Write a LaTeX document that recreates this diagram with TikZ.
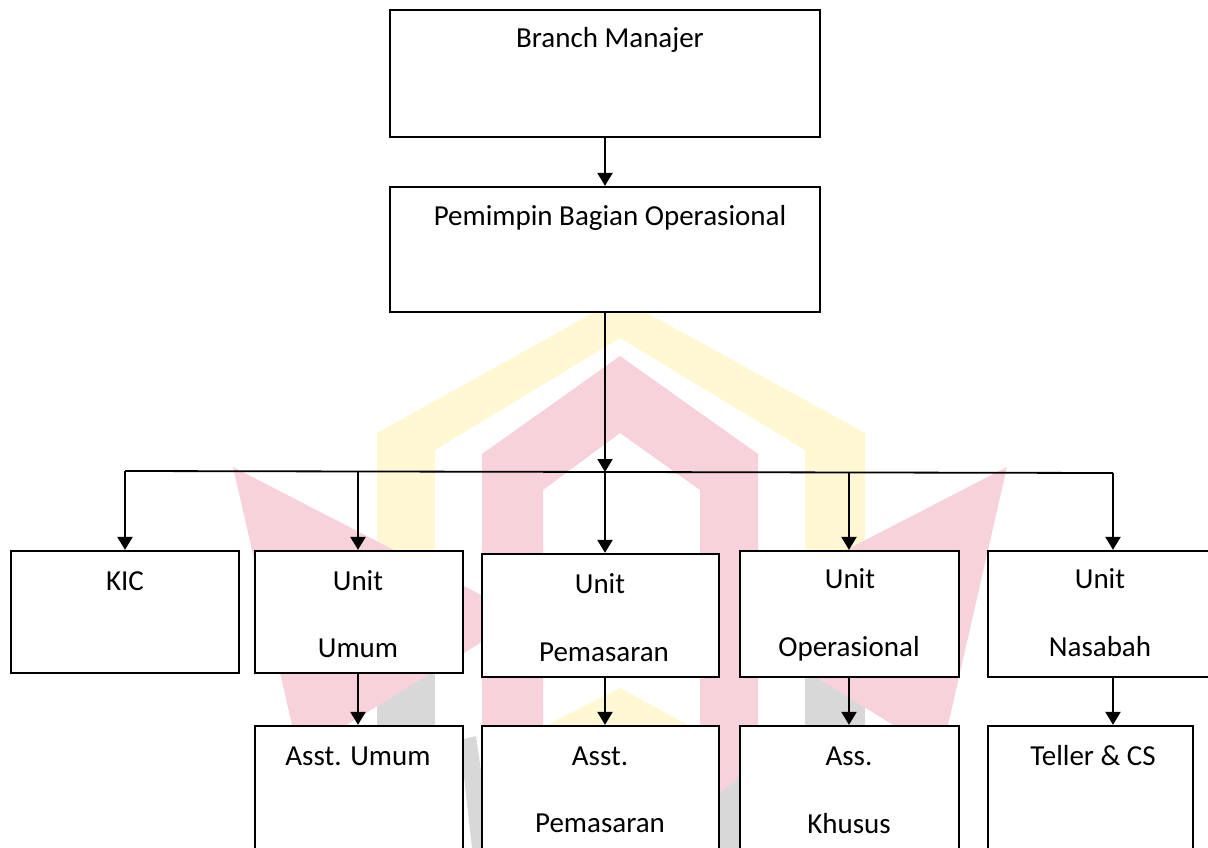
\documentclass[tikz,border=0pt]{standalone}
\usepackage{fontspec}
\setmainfont{Carlito}
\usetikzlibrary{arrows.meta}
\definecolor{wmpink}{RGB}{247,210,219}
\definecolor{wmyellow}{RGB}{255,248,210}
\definecolor{wmgray}{RGB}{216,216,216}
\begin{document}
\begin{tikzpicture}[x=1pt,y=-1pt,
  box/.style={draw=black, line width=2.3pt, fill=white, rectangle, inner sep=0pt},
  lbl/.style={anchor=base, inner sep=0pt, font=\fontsize{29}{34}\selectfont},
  tip/.style={-{Triangle[length=13pt,width=15pt]}},
  arr/.style={line width=2.3pt, tip},
  ln/.style={line width=1.8pt}]
\useasboundingbox (0,0) rectangle (1208,848);
\clip (0,0) rectangle (1208,848);
\fill[white] (0,0) rectangle (1208,848);
% watermark
\fill[wmyellow] (377,600) -- (377,433) -- (620,298) -- (865,433) -- (865,600) -- (805,600) -- (805,450) -- (620,338) -- (435,450) -- (435,600) -- cycle;
\fill[wmgray] (377,600) rectangle (435,848);
\fill[wmgray] (805,600) rectangle (865,848);
\fill[wmpink] (233,467) -- (485,597) -- (485,640) -- (345,726) -- (300,760) -- cycle;
\fill[wmpink] (1007,467) -- (755,597) -- (755,640) -- (895,726) -- (940,760) -- cycle;
\fill[wmpink] (482,848) -- (482,454) -- (620,356) -- (758,454) -- (758,848) -- (700,848) -- (700,490) -- (620,433) -- (543,490) -- (543,848) -- cycle;
\fill[wmyellow] (545,726) -- (620,688) -- (690,726) -- cycle;
\fill[wmgray] (460,740) -- (476,736) -- (492,848) -- (472,848) -- cycle;
\fill[wmgray] (712,800) -- (748,770) -- (748,848) -- (712,848) -- cycle;
% boxes
\node[box, minimum width=430pt, minimum height=127pt] (bm) at (605,73.5) {};
\node[box, minimum width=430pt, minimum height=125pt] (pbo) at (605,249.5) {};
\node[box, minimum width=228pt, minimum height=122pt] (kic) at (125,612) {};
\node[box, minimum width=208pt, minimum height=122pt] (uum) at (359,612) {};
\node[box, minimum width=237pt, minimum height=123pt] (upem) at (600.5,615.5) {};
\node[box, minimum width=219pt, minimum height=126pt] (uop) at (849.5,614) {};
\node[box, minimum width=226pt, minimum height=126pt] (unas) at (1101,614) {};
\node[box, minimum width=208pt, minimum height=144pt] (aum) at (359,798) {};
\node[box, minimum width=237pt, minimum height=144pt] (apem) at (600.5,798) {};
\node[box, minimum width=219pt, minimum height=144pt] (akh) at (849.5,798) {};
\node[box, minimum width=205pt, minimum height=144pt] (tel) at (1090.5,798) {};
% labels
\node[lbl] (t-bm) at (610,48) {Branch Manajer};
\node[lbl] (t-pbo) at (610,225) {Pemimpin Bagian Operasional};
\node[lbl] (t-kic) at (125,590) {KIC};
\node[lbl] (t-uum1) at (358,590) {Unit};
\node[lbl] (t-uum2) at (358,657) {Umum};
\node[lbl] (t-upem1) at (600,593) {Unit};
\node[lbl] (t-upem2) at (604,661) {Pemasaran};
\node[lbl] (t-uop1) at (850,588) {Unit};
\node[lbl] (t-uop2) at (849,656) {Operasional};
\node[lbl] (t-unas1) at (1100,588) {Unit};
\node[lbl] (t-unas2) at (1100,656) {Nasabah};
\node[lbl] (t-aum) at (358,765) {Asst. Umum};
\node[lbl] (t-apem1) at (600,765) {Asst.};
\node[lbl] (t-apem2) at (600,832) {Pemasaran};
\node[lbl] (t-akh1) at (849,765) {Ass.};
\node[lbl] (t-akh2) at (849,833) {Khusus};
\node[lbl] (t-tel) at (1093,765) {Teller \& CS};
% connectors
\coordinate (j) at (605,472);
\coordinate (b1) at (125,471);
\coordinate (b2) at (358,471);
\coordinate (b4) at (849,473);
\coordinate (b5) at (1113,473);
\draw[arr] (bm.south) -- (pbo.north);
\draw[ln, tip] (pbo.south) -- (j);
\draw[ln] (b1) -- (b5);
\draw[arr] (b1) -- (kic.north);
\draw[arr] (b2) -- (b2 |- uum.north);
\draw[arr] (j) -- (j |- upem.north);
\draw[arr] (b4) -- (b4 |- uop.north);
\draw[arr] (b5) -- (b5 |- unas.north);
\draw[arr] (b2 |- uum.south) -- (b2 |- aum.north);
\draw[arr] (j |- upem.south) -- (j |- apem.north);
\draw[arr] (b4 |- uop.south) -- (b4 |- akh.north);
\draw[arr] (b5 |- unas.south) -- (b5 |- tel.north);
\end{tikzpicture}
\end{document}
